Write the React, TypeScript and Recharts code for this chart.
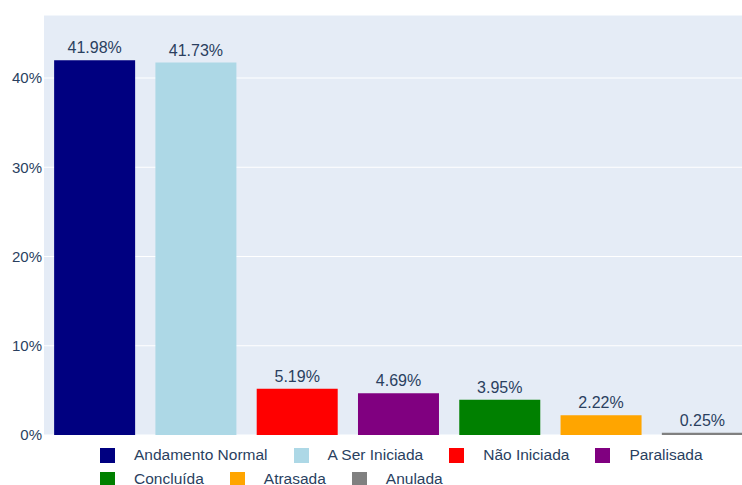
import React from "react";
import { BarChart, Bar, XAxis, YAxis, CartesianGrid, Cell, LabelList } from "recharts";

const categories = ["Andamento Normal", "A Ser Iniciada", "Não Iniciada", "Paralisada", "Concluída", "Atrasada", "Anulada"];
const values = [41.98, 41.73, 5.19, 4.69, 3.95, 2.22, 0.25];
const colors = ["#000080", "#ADD8E6", "#FF0000", "#800080", "#008000", "#FFA500", "#808080"];
const yTicks = [0, 10, 20, 30, 40];
const legendRows = [[0, 1, 2, 3], [4, 5, 6]];

const data = categories.map((c, i) => ({ name: c, value: values[i] }));
const FONT = '"Liberation Sans", Arial, sans-serif';
const TEXT = "#2a3f5f";

export default function App() {
  return (
    <div style={{ position: "absolute", left: 0, top: 0, width: 742, height: 485, overflow: "hidden", background: "#fff", fontFamily: FONT }}>
      <BarChart
        width={753}
        height={485}
        data={data}
        margin={{ top: 15, right: 0, bottom: 50, left: 0 }}
        barCategoryGap="10%"
      >
        <CartesianGrid fill="#E5ECF6" stroke="#ffffff" strokeWidth={1.2} vertical={false} />
        <XAxis dataKey="name" hide />
        <YAxis
          width={44}
          domain={[0, 47.06]}
          ticks={yTicks}
          tickFormatter={(v) => `${v}%`}
          axisLine={false}
          tickLine={false}
          tickSize={1}
          tickMargin={1}
          tick={{ fill: TEXT, fontSize: 15, fontFamily: FONT }}
        />
        <Bar dataKey="value" isAnimationActive={false}>
          {data.map((d, i) => (
            <Cell key={d.name} fill={colors[i]} />
          ))}
          <LabelList
            dataKey="value"
            position="top"
            offset={7}
            formatter={(v: number) => `${v.toFixed(2)}%`}
            style={{ fill: TEXT, fontSize: 16, fontFamily: FONT }}
          />
        </Bar>
      </BarChart>
      <div style={{ position: "absolute", left: 100, top: 443, color: TEXT, fontSize: 15.5, lineHeight: "16px" }}>
        {legendRows.map((row, ri) => (
          <div key={ri} style={{ display: "flex", alignItems: "center", height: 24, whiteSpace: "nowrap" }}>
            {row.map((i) => (
              <div key={i} style={{ display: "flex", alignItems: "center", marginRight: 26 }}>
                <span style={{ display: "inline-block", width: 15, height: 15, background: colors[i], marginRight: 19 }} />
                <span>{categories[i]}</span>
              </div>
            ))}
          </div>
        ))}
      </div>
    </div>
  );
}
